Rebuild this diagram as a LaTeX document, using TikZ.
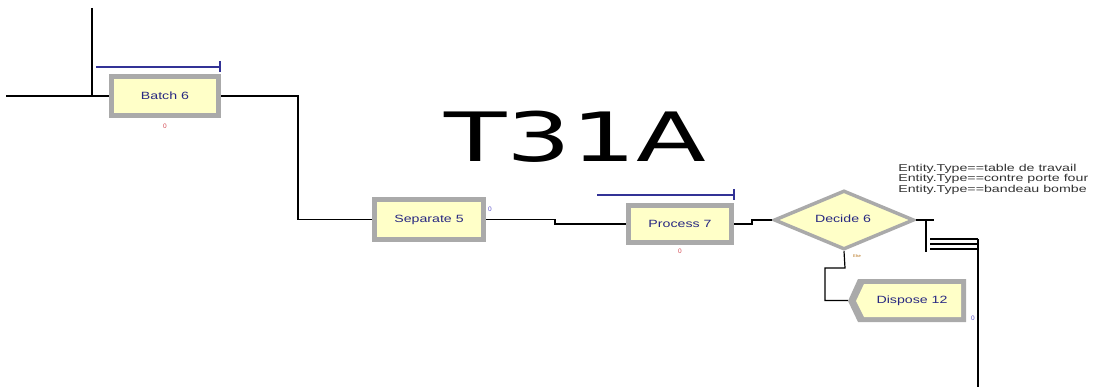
\documentclass[tikz,border=0pt]{standalone}
\usepackage{fontspec}
\setmainfont{Liberation Sans}
\newfontfamily\titlefont{DejaVu Sans}
\usetikzlibrary{shapes.geometric}
\definecolor{boxfill}{RGB}{255,255,200}
\definecolor{framegray}{RGB}{170,170,170}
\definecolor{txtblue}{RGB}{40,40,130}
\definecolor{qblue}{RGB}{50,50,150}
\definecolor{cred}{RGB}{210,70,80}
\definecolor{cblue}{RGB}{90,80,200}
\definecolor{corange}{RGB}{180,110,20}
\tikzset{
  conn/.style={draw=black, line width=1.2pt},
  modbox/.style={rectangle, fill=boxfill, draw=framegray, line width=5pt, inner sep=0pt},
  modtext/.style={font=\fontsize{10.5}{12}\selectfont, text=txtblue, xscale=1.35},
  cnt/.style={font=\fontsize{6.5}{7}\selectfont, inner sep=0pt},
  queue/.style={draw=qblue, line width=1.2pt},
  cond/.style={font=\fontsize{10}{10}\selectfont, xscale=1.42, anchor=west, inner sep=0pt, text=black!80},
}
\begin{document}
\begin{tikzpicture}[x=1pt,y=-1pt]
\useasboundingbox (0,0) rectangle (1099,387);
% title
\node[font=\titlefont\fontsize{68}{70}\selectfont, xscale=1.5, inner sep=0pt] (title) at (575,137) {T31A};
% modules
\node[modbox, minimum width=107pt, minimum height=39pt] (batch) at (165,96) {};
\node[modtext] (batchtxt) at (165,96) {Batch 6};
\node[cnt, text=cred] (batchc) at (165,126) {0};
\node[modbox, minimum width=109pt, minimum height=40pt] (sep) at (429,219.5) {};
\node[modtext] (septxt) at (429,219.5) {Separate 5};
\node[cnt, text=cblue] (sepc) at (490,209) {0};
\node[modbox, minimum width=103pt, minimum height=37pt] (proc) at (680,224) {};
\node[modtext] (proctxt) at (680,224) {Process 7};
\node[cnt, text=cred] (procc) at (680,251) {0};
\node[diamond, fill=boxfill, draw=framegray, line width=3.5pt, minimum width=140pt, minimum height=59pt, inner sep=0pt, aspect=2.3] (dec) at (844,220) {};
\node[modtext] (dectxt) at (843,219) {Decide 6};
\node[cnt, text=corange, font=\fontsize{4}{4}\selectfont] (else) at (857,256) {Else};
% dispose
\node[inner sep=0pt, minimum width=118pt, minimum height=43pt] (disp) at (907,300.5) {};
\fill[framegray] (848,301) -- (858,279) -- (966,279) -- (966,322) -- (858,322) -- cycle;
\fill[boxfill] (856,301) -- (864,284) -- (961,284) -- (961,317) -- (864,317) -- cycle;
\node[modtext] (disptxt) at (912,300.5) {Dispose 12};
\node[cnt, text=cblue] (dispc) at (973,318) {0};
% queues
\coordinate (q1a) at (96,67); \coordinate (q1b) at (220,67);
\draw[queue] (q1a) -- (q1b); \draw[queue] (220,61) -- (220,72);
\coordinate (q2a) at (597,195); \coordinate (q2b) at (734,195);
\draw[queue] (q2a) -- (q2b); \draw[queue] (734,189) -- (734,200);
% conditions
\node[cond] (c1) at (898,168.5) {Entity.Type==table de travail};
\node[cond] (c2) at (898,179) {Entity.Type==contre porte four};
\node[cond] (c3) at (898,189.5) {Entity.Type==bandeau bombe};
% connectors
\coordinate (top) at (92,8); \coordinate (j) at (92,96); \coordinate (left) at (6,96);
\draw[conn] (top) -- (j);
\draw[conn] (left) -- (batch.west);
\coordinate (b1) at (298,96);
\draw[conn] (batch.east) -- (b1) |- (sep.west);
\coordinate (s1) at (555,219.5);
\draw[conn] (sep.east) -- (s1) |- (proc.west);
\coordinate (p1) at (752,224); \coordinate (p2) at (767,220);
\draw[conn] (proc.east) -- (p1) |- (p2) -- (dec.west);
\coordinate (d1) at (934,220); \coordinate (t1) at (926,220); \coordinate (t2) at (926,252);
\draw[conn] (dec.east) -- (d1);
\draw[conn] (t1) -- (t2);
\foreach \yy in {239,244,249} {\draw[conn] (930,\yy) -- (978,\yy);}
\coordinate (v1) at (978,239); \coordinate (v2) at (978,387);
\draw[conn] (v1) -- (v2);
\coordinate (e1) at (845,268); \coordinate (e2) at (825,268);
\draw[conn] (dec.south) -- (e1) -- (e2) |- (disp.west);
\end{tikzpicture}
\end{document}
